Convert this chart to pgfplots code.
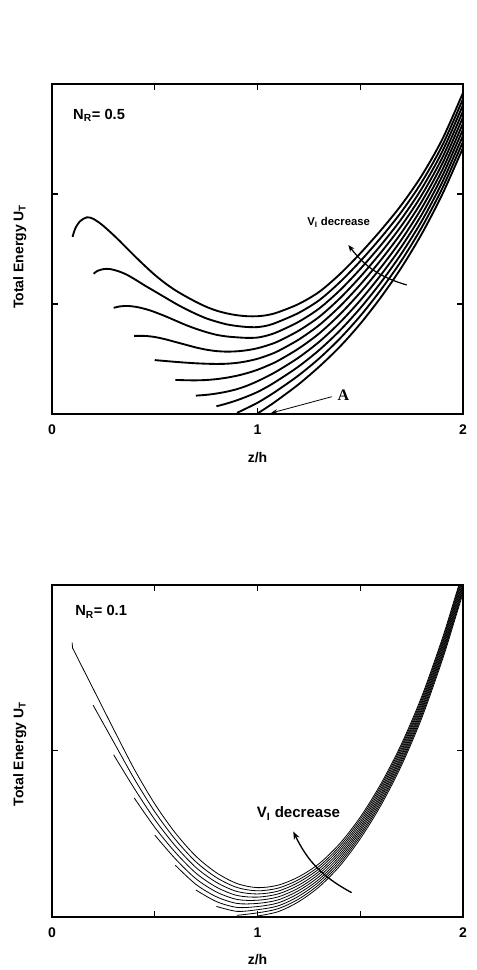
\documentclass[border=0pt]{standalone}
\usepackage{pgfplots}
\pgfplotsset{compat=1.18}
\usepackage{fontspec}
\setmainfont{Liberation Sans}
\newfontfamily\timesfont{Liberation Serif}
\usetikzlibrary{arrows.meta}
\pgfplotsset{
  myaxis/.style={
    scale only axis, width=308.25pt,
    xmin=0,xmax=2,ymin=0,
    axis line style={line width=1.3pt},
    every tick/.style={line width=0.9pt, black},
    tick align=inside,
    major tick length=4.5pt,
    yticklabels={},
    xticklabel style={font=\fontsize{10.5}{12}\selectfont, yshift=-4.5pt},
    xlabel={\textbf{z/h}},
    ylabel={\textbf{Total Energy U\textsubscript{T}}},
    label style={font=\fontsize{10.5}{12}\selectfont},
    xlabel style={at={(axis description cs:0.5,0)},anchor=north,yshift=-25pt},
    clip=true,
  },
  topc/.style={black, line width=1.4pt, smooth},
  botc/.style={black, line width=0.6pt, smooth},
}
\begin{document}
\begin{tikzpicture}
\path[use as bounding box] (-39pt,310.5pt) rectangle (318pt,-417pt);
% ---------------- top panel ----------------
\begin{axis}[myaxis, at={(0pt,0pt)}, anchor=south west, height=247.5pt, ymax=3, ytick={1,2},
  xtick={0,1,2}, xticklabels={\textbf{0},\textbf{1},\textbf{2}},
  ylabel style={at={([xshift=-21.4pt]axis description cs:0,0.477)}, anchor=base}]
\addplot[topc] coordinates {(0.100,1.61) (0.114,1.69) (0.138,1.755) (0.170,1.788) (0.20,1.775) (0.24,1.725) (0.28,1.66) (0.32,1.59) (0.36,1.515) (0.40,1.44) (0.45,1.35) (0.50,1.265) (0.55,1.19) (0.60,1.125) (0.65,1.07) (0.70,1.02) (0.75,0.975) (0.80,0.94) (0.85,0.915) (0.90,0.898) (0.95,0.889) (1.00,0.889) (1.05,0.900) (1.10,0.925) (1.20,1.000) (1.30,1.110) (1.40,1.270) (1.50,1.460) (1.60,1.670) (1.70,1.900) (1.80,2.170) (1.90,2.500) (2.00,2.920)};
\addplot[topc] coordinates {(0.203,1.275) (0.22,1.30) (0.25,1.317) (0.28,1.318) (0.32,1.30) (0.36,1.27) (0.40,1.228) (0.45,1.17) (0.50,1.115) (0.55,1.06) (0.60,1.005) (0.65,0.955) (0.70,0.91) (0.75,0.87) (0.80,0.84) (0.85,0.815) (0.90,0.80) (0.95,0.791) (1.00,0.790) (1.05,0.805) (1.10,0.837) (1.20,0.919) (1.30,1.034) (1.40,1.197) (1.50,1.389) (1.60,1.602) (1.70,1.837) (1.80,2.111) (1.90,2.444) (2.00,2.864)};
\addplot[topc] coordinates {(0.30,0.965) (0.33,0.978) (0.37,0.982) (0.42,0.97) (0.48,0.94) (0.55,0.89) (0.60,0.85) (0.65,0.81) (0.70,0.775) (0.75,0.745) (0.80,0.72) (0.85,0.705) (0.90,0.697) (0.95,0.692) (1.00,0.695) (1.05,0.715) (1.10,0.748) (1.20,0.838) (1.30,0.959) (1.40,1.123) (1.50,1.318) (1.60,1.534) (1.70,1.773) (1.80,2.052) (1.90,2.389) (2.00,2.809)};
\addplot[topc] coordinates {(0.40,0.71) (0.45,0.71) (0.50,0.70) (0.55,0.68) (0.60,0.655) (0.65,0.63) (0.70,0.605) (0.75,0.585) (0.80,0.572) (0.85,0.567) (0.90,0.570) (0.95,0.580) (1.00,0.598) (1.05,0.625) (1.10,0.660) (1.20,0.757) (1.30,0.883) (1.40,1.050) (1.50,1.247) (1.60,1.467) (1.70,1.710) (1.80,1.993) (1.90,2.333) (2.00,2.753)};
\addplot[topc] coordinates {(0.50,0.49) (0.55,0.482) (0.60,0.474) (0.65,0.467) (0.70,0.461) (0.75,0.457) (0.80,0.455) (0.85,0.457) (0.90,0.465) (0.95,0.480) (1.00,0.502) (1.05,0.533) (1.10,0.572) (1.20,0.676) (1.30,0.808) (1.40,0.977) (1.50,1.176) (1.60,1.399) (1.70,1.647) (1.80,1.934) (1.90,2.278) (2.00,2.698)};
\addplot[topc] coordinates {(0.60,0.31) (0.65,0.307) (0.70,0.306) (0.75,0.309) (0.80,0.317) (0.85,0.33) (0.90,0.348) (0.95,0.372) (1.00,0.402) (1.05,0.440) (1.10,0.484) (1.20,0.595) (1.30,0.732) (1.40,0.904) (1.50,1.105) (1.60,1.331) (1.70,1.583) (1.80,1.875) (1.90,2.222) (2.00,2.642)};
\addplot[topc] coordinates {(0.70,0.167) (0.75,0.174) (0.80,0.186) (0.85,0.203) (0.90,0.226) (0.95,0.258) (1.00,0.298) (1.05,0.344) (1.10,0.395) (1.20,0.513) (1.30,0.656) (1.40,0.830) (1.50,1.033) (1.60,1.263) (1.70,1.520) (1.80,1.816) (1.90,2.167) (2.00,2.587)};
\addplot[topc] coordinates {(0.80,0.07) (0.85,0.095) (0.90,0.125) (0.95,0.16) (1.00,0.20) (1.05,0.25) (1.10,0.307) (1.20,0.432) (1.30,0.581) (1.40,0.757) (1.50,0.962) (1.60,1.195) (1.70,1.457) (1.80,1.757) (1.90,2.111) (2.00,2.531)};
\addplot[topc] coordinates {(0.90,0.01) (0.95,0.055) (1.00,0.102) (1.05,0.158) (1.10,0.219) (1.20,0.351) (1.30,0.505) (1.40,0.684) (1.50,0.891) (1.60,1.128) (1.70,1.393) (1.80,1.699) (1.90,2.055) (2.00,2.476)};
\addplot[topc] coordinates {(1.00,0.005) (1.05,0.065) (1.10,0.130) (1.20,0.270) (1.30,0.430) (1.40,0.610) (1.50,0.820) (1.60,1.060) (1.70,1.330) (1.80,1.640) (1.90,2.000) (2.00,2.420)};
\draw[line width=0.9pt] (axis cs:0.5,3) -- ++(0,-4.5pt);
\draw[line width=0.9pt] (axis cs:1.5,3) -- ++(0,-4.5pt);
\node[anchor=base west, inner sep=0pt, font=\bfseries\fontsize{11}{13}\selectfont] at (axis cs:0.102,2.68) {N\textsubscript{R}= 0.5};
\node[anchor=base west, inner sep=0pt, font=\bfseries\fontsize{8.5}{10}\selectfont] at (axis cs:1.241,1.715) {V\textsubscript{I} decrease};
\draw[-{Stealth[length=5pt,width=4pt]}, line width=0.9pt] (axis cs:1.726,1.173) to[bend left=18] (axis cs:1.442,1.536);
\node[anchor=base west, inner sep=0pt, font=\timesfont\bfseries\fontsize{12}{14}\selectfont] at (axis cs:1.389,0.127) {A};
\draw[-{Stealth[length=5pt,width=3.5pt]}, line width=0.6pt] (axis cs:1.361,0.157) -- (axis cs:1.065,0.008);
\end{axis}
% ---------------- bottom panel ----------------
\begin{axis}[myaxis, at={(0pt,-377pt)}, anchor=south west, height=248.8pt, ymax=2, ytick={1},
  xtick={0,0.5,1,1.5,2}, xticklabels={\textbf{0},,\textbf{1},,\textbf{2}},
  ylabel style={at={([xshift=-21.4pt]axis description cs:0,0.49)}, anchor=base}]
\addplot[black, line width=0.6pt] coordinates {(0.098,1.652) (0.100,1.62)};
\addplot[botc] coordinates {(0.10,1.62) (0.20,1.375) (0.30,1.13) (0.40,0.89) (0.50,0.68) (0.60,0.505) (0.70,0.365) (0.80,0.265) (0.90,0.20) (1.00,0.175) (1.10,0.190) (1.20,0.240) (1.30,0.320) (1.40,0.440) (1.50,0.600) (1.60,0.800) (1.70,1.040) (1.80,1.330) (1.90,1.680) (1.96,1.920) (2.00,2.080)};
\addplot[botc] coordinates {(0.20,1.275) (0.30,1.053) (0.40,0.832) (0.50,0.633) (0.60,0.466) (0.70,0.331) (0.80,0.236) (0.90,0.176) (1.00,0.156) (1.10,0.172) (1.20,0.223) (1.30,0.304) (1.40,0.425) (1.50,0.586) (1.60,0.786) (1.70,1.026) (1.80,1.316) (1.90,1.666) (1.96,1.906) (2.00,2.066)};
\addplot[botc] coordinates {(0.30,0.976) (0.40,0.774) (0.50,0.586) (0.60,0.427) (0.70,0.297) (0.80,0.207) (0.90,0.152) (1.00,0.137) (1.10,0.154) (1.20,0.207) (1.30,0.289) (1.40,0.410) (1.50,0.571) (1.60,0.771) (1.70,1.011) (1.80,1.301) (1.90,1.651) (1.96,1.891) (2.00,2.051)};
\addplot[botc] coordinates {(0.40,0.716) (0.50,0.539) (0.60,0.388) (0.70,0.263) (0.80,0.178) (0.90,0.128) (1.00,0.118) (1.10,0.137) (1.20,0.190) (1.30,0.273) (1.40,0.395) (1.50,0.557) (1.60,0.757) (1.70,0.997) (1.80,1.287) (1.90,1.637) (1.96,1.877) (2.00,2.037)};
\addplot[botc] coordinates {(0.50,0.492) (0.60,0.349) (0.70,0.229) (0.80,0.149) (0.90,0.104) (1.00,0.099) (1.10,0.119) (1.20,0.173) (1.30,0.258) (1.40,0.380) (1.50,0.542) (1.60,0.742) (1.70,0.982) (1.80,1.272) (1.90,1.622) (1.96,1.862) (2.00,2.022)};
\addplot[botc] coordinates {(0.60,0.310) (0.70,0.195) (0.80,0.120) (0.90,0.080) (1.00,0.080) (1.10,0.101) (1.20,0.157) (1.30,0.242) (1.40,0.365) (1.50,0.528) (1.60,0.728) (1.70,0.968) (1.80,1.258) (1.90,1.608) (1.96,1.848) (2.00,2.008)};
\addplot[botc] coordinates {(0.70,0.161) (0.80,0.091) (0.90,0.056) (1.00,0.061) (1.10,0.083) (1.20,0.140) (1.30,0.226) (1.40,0.350) (1.50,0.514) (1.60,0.714) (1.70,0.954) (1.80,1.244) (1.90,1.594) (1.96,1.834) (2.00,1.994)};
\addplot[botc] coordinates {(0.80,0.062) (0.90,0.032) (1.00,0.042) (1.10,0.065) (1.20,0.123) (1.30,0.211) (1.40,0.335) (1.50,0.499) (1.60,0.699) (1.70,0.939) (1.80,1.229) (1.90,1.579) (1.96,1.819) (2.00,1.979)};
\addplot[botc] coordinates {(0.90,0.008) (1.00,0.023) (1.10,0.048) (1.20,0.106) (1.30,0.195) (1.40,0.320) (1.50,0.485) (1.60,0.685) (1.70,0.925) (1.80,1.215) (1.90,1.565) (1.96,1.805) (2.00,1.965)};
\addplot[botc] coordinates {(1.00,0.004) (1.10,0.030) (1.20,0.090) (1.30,0.180) (1.40,0.305) (1.50,0.470) (1.60,0.670) (1.70,0.910) (1.80,1.200) (1.90,1.550) (1.96,1.790) (2.00,1.950)};
\node[anchor=base west, inner sep=0pt, font=\bfseries\fontsize{11}{13}\selectfont] at (axis cs:0.112,1.813) {N\textsubscript{R}= 0.1};
\node[anchor=base west, inner sep=0pt, font=\bfseries\fontsize{11.3}{13}\selectfont] at (axis cs:0.996,0.595) {V\textsubscript{I} decrease};
\draw[-{Stealth[length=6pt,width=4.5pt]}, line width=1pt] (axis cs:1.458,0.145) to[bend left=18] (axis cs:1.174,0.514);
\end{axis}
\end{tikzpicture}
\end{document}
